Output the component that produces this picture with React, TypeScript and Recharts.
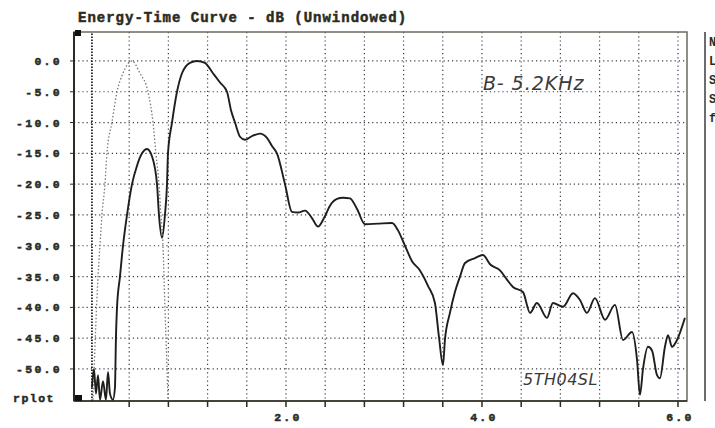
import React from 'react';
import { LineChart, Line, XAxis, YAxis, CartesianGrid, ReferenceLine, ReferenceArea } from 'recharts';

// ETC (solid) - time in ms, level in dB
const etcTime = [
  0.02, 0.041, 0.061, 0.082, 0.102, 0.133, 0.163, 0.184, 0.204, 0.235, 0.255, 0.265, 0.276, 0.306, 0.337,
  0.378, 0.429, 0.48, 0.531, 0.582, 0.633, 0.684, 0.704, 0.735, 0.765, 0.786, 0.796, 0.837, 0.888, 0.939,
  1.02, 1.092, 1.173, 1.255, 1.327, 1.398, 1.439, 1.48, 1.531, 1.582, 1.653, 1.735, 1.806, 1.857, 1.908,
  1.99, 2.061, 2.122, 2.194, 2.265, 2.327, 2.388, 2.449, 2.52, 2.582, 2.653, 2.724, 2.806, 2.939, 3.082,
  3.143, 3.214, 3.286, 3.367, 3.449, 3.52, 3.561, 3.602, 3.622, 3.673, 3.724, 3.776, 3.827, 3.929, 4.01,
  4.082, 4.184, 4.255, 4.316, 4.418, 4.49, 4.561, 4.663, 4.724, 4.827, 4.929, 5.0, 5.071, 5.153, 5.255,
  5.357, 5.439, 5.531, 5.582, 5.612, 5.643, 5.694, 5.735, 5.786, 5.816, 5.867, 5.898, 5.939, 5.99, 6.071,
];
const etcDb = [
  -53, -50, -54, -51, -55, -52, -55, -50.5, -54, -55, -53, -45, -40, -35, -30,
  -25, -20, -17, -15, -14.3, -15.5, -20, -25, -28.7, -25, -20, -15, -10, -5, -2,
  -0.3, 0, -0.3, -2, -3.5, -5, -8, -10, -12.3, -12.8, -12.2, -11.8, -12.5, -13.8, -15,
  -20, -24.5, -24.6, -24.3, -25.5, -26.9, -25.5, -23.5, -22.4, -22.2, -22.3, -24, -26.5, -26.4, -26.3,
  -27.5, -30, -32.5, -34, -36.5, -39.3, -44.8, -49.4, -45.3, -40.9, -37.5, -35, -32.8, -32, -31.5,
  -33, -34, -35.5, -36.7, -37.5, -40.9, -39.3, -41.7, -39.3, -39.9, -37.7, -38.8, -40.9, -38.5, -42,
  -39.6, -45.3, -44, -48.5, -54.2, -50, -46.4, -47, -51, -51.5, -46.4, -44.5, -46.4, -45.3, -41.7,
];

// Impulse (dotted reference)
const impTime = [
  0.031, 0.082, 0.102, 0.122, 0.153, 0.173, 0.224, 0.276, 0.337, 0.429,
  0.51, 0.592, 0.643, 0.673, 0.704, 0.724, 0.745, 0.765, 0.786, 0.796,
];
const impDb = [-55, -35, -30, -25, -20, -15, -10, -5, -2, 0, -2, -5, -10, -15, -20, -25, -30, -40, -50, -55];

const yTicks = [0, -5, -10, -15, -20, -25, -30, -35, -40, -45, -50];
const xTicks = [0.4, 0.8, 1.2, 1.6, 2.0, 2.4, 2.8, 3.2, 3.6, 4.0, 4.4, 4.8, 5.2, 5.6, 6.0];
const xLabeled = [2.0, 4.0, 6.0];

const etcData = etcTime.map((t, i) => ({ t, db: etcDb[i] }));
const impData = impTime.map((t, i) => ({ t, db: impDb[i] }));

const MONO = '"Liberation Mono", "DejaVu Sans Mono", monospace';
const INK = '#2b2b22';
const GRID = '#3c3c48';

const YTick = ({ x, y, payload }: any) => (
  <text x={x} y={y} dy={4} textAnchor="end" fontFamily={MONO} fontWeight="bold" fontSize={11.5}
    letterSpacing={2.3} fill={INK} stroke={INK} strokeWidth={0.5}>
    {Number(payload.value).toFixed(1)}
  </text>
);

const XTick = ({ x, y, payload }: any) => {
  const v = Number(payload.value);
  if (!xLabeled.some((l) => Math.abs(l - v) < 1e-6)) return null;
  return (
    <text x={x + 2} y={y + 12} textAnchor="middle" fontFamily={MONO} fontWeight="bold" fontSize={11.5}
      letterSpacing={2.3} fill={INK} stroke={INK} strokeWidth={0.5}>
      {v.toFixed(1)}
    </text>
  );
};

export default function App() {
  return (
    <div style={{ position: 'absolute', left: 0, top: 0, width: 715, height: 428, background: '#fff' }}>
      <LineChart width={715} height={428} margin={{ top: 32, right: 28, bottom: 0, left: 0 }}>
        <CartesianGrid stroke={GRID} strokeWidth={1.2} strokeDasharray="1.2 3" verticalValues={xTicks} horizontalValues={yTicks} />
        <XAxis
          type="number"
          dataKey="t"
          domain={[-0.163, 6.092]}
          ticks={xTicks}
          allowDataOverflow
          height={27}
          tickSize={6}
          tick={<XTick />}
          axisLine={{ stroke: INK, strokeWidth: 1.5 }}
          tickLine={{ stroke: INK, strokeWidth: 1.5 }}
        />
        <YAxis
          type="number"
          domain={[-55.2, 4.7]}
          ticks={yTicks}
          allowDataOverflow
          width={74}
          tickSize={4}
          tickMargin={8}
          tick={<YTick />}
          axisLine={{ stroke: INK, strokeWidth: 2 }}
          tickLine={{ stroke: INK }}
        />
        <ReferenceArea x1={-0.163} x2={6.092} y1={-55.2} y2={4.7} fill="none" stroke="#6b6b60" strokeWidth={1.5} />
        <ReferenceLine x={0.02} stroke="#222" strokeDasharray="1.5 1.5" strokeWidth={1.8} />
        <Line data={impData} dataKey="db" type="monotone" stroke="#7a7a7a" strokeWidth={1.3}
          strokeDasharray="1.5 2" dot={false} isAnimationActive={false} />
        <Line data={etcData} dataKey="db" type="monotone" stroke="#1e1e1a" strokeWidth={1.9}
          dot={false} isAnimationActive={false} />
      </LineChart>
      <svg width={715} height={428} style={{ position: 'absolute', left: 0, top: 0, pointerEvents: 'none' }}>
        <text x={78} y={22} fontFamily={MONO} fontWeight="bold" fontSize={14} letterSpacing={1} fill={INK}
          stroke={INK} strokeWidth={0.5}>
          Energy-Time Curve - dB (Unwindowed)
        </text>
        <rect x={75} y={30} width={6} height={6} fill="#111" />
        <rect x={75} y={395} width={7} height={6} fill="#111" />
        <text x={13} y={402} fontFamily={MONO} fontWeight="bold" fontSize={11.5} letterSpacing={1.5} fill={INK}
          stroke={INK} strokeWidth={0.5}>
          rplot
        </text>
        <line x1={705} y1={32} x2={705} y2={401} stroke="#6b6b70" strokeWidth={2} />
        {['N', 'L', 'S', 'S', 'f'].map((c, i) => (
          <text key={i} x={709} y={46 + i * 19} fontFamily={MONO} fontWeight="bold" fontSize={12} fill={INK}>
            {c}
          </text>
        ))}
        <text x={483} y={90} fontFamily='"DejaVu Sans", sans-serif' fontStyle="italic" fontSize={19}
          fill="#3a3a3a" letterSpacing={1}>
          B- 5.2KHz
        </text>
        <text x={523} y={385} fontFamily='"DejaVu Sans", sans-serif' fontStyle="italic" fontSize={16}
          fill="#3a3a3a" letterSpacing={0.5}>
          5TH04SL
        </text>
      </svg>
    </div>
  );
}
